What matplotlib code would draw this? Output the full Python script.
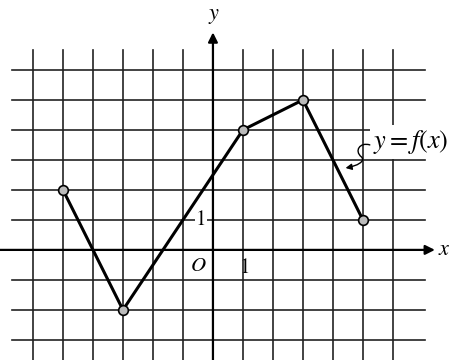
import numpy as np
import matplotlib.pyplot as plt
from matplotlib.path import Path
from matplotlib.patches import FancyArrowPatch

# vertices of the piecewise linear function y = f(x)
xs = [-5, -3, 1, 3, 5]
ys = [2, -2, 4, 5, 1]

grid_x = np.arange(-6, 7)
grid_y = np.arange(-3, 7)

plt.rcParams['mathtext.fontset'] = 'stix'
plt.rcParams['font.family'] = 'STIXGeneral'

fig = plt.figure(figsize=(4.52, 3.60), dpi=100)
ax = fig.add_axes([0, 0, 1, 1])
ax.set_xlim(-7.1, 7.97)
ax.set_ylim(-3.67, 8.33)
ax.axis('off')

# grid
for gx in grid_x:
    if gx == 0:
        continue
    ax.plot([gx, gx], [-3.8, 6.67], color='#222222', lw=1.2, zorder=1)
for gy in grid_y:
    if gy == 0:
        continue
    ax.plot([-6.7, 7.07], [gy, gy], color='#222222', lw=1.2, zorder=1)

# axes
ax.annotate('', xy=(7.4, 0), xytext=(-7.1, 0),
            arrowprops=dict(arrowstyle='-|>', color='black', lw=1.6,
                            mutation_scale=14, shrinkA=0, shrinkB=0), zorder=2)
ax.annotate('', xy=(0, 7.25), xytext=(0, -3.8),
            arrowprops=dict(arrowstyle='-|>', color='black', lw=1.6,
                            mutation_scale=14, shrinkA=0, shrinkB=0), zorder=2)
ax.text(7.72, 0, '$x$', fontsize=16, ha='center', va='center')
ax.text(0.05, 7.8, '$y$', fontsize=16, ha='center', va='center')
ax.text(-0.5, -0.55, '$O$', fontsize=15, ha='center', va='center')
ax.text(1.07, -0.6, '1', fontsize=15, ha='center', va='center')
ax.text(-0.4, 1.0, '1', fontsize=15, ha='center', va='center',
        bbox=dict(facecolor='white', edgecolor='none', pad=0.5))

# function
ax.plot(xs, ys, color='black', lw=2.2, zorder=3)
ax.plot(xs, ys, 'o', ms=7, mfc='#bbbbbb', mec='black', mew=1.2, zorder=4)

# label with squiggly pointer
ax.text(6.58, 3.6, '$y = f(x)$', fontsize=19, ha='center', va='center',
        bbox=dict(facecolor='white', edgecolor='none', pad=2), zorder=5)
squiggle = Path([(5.23, 3.5), (4.9, 3.6), (4.7, 3.3), (4.95, 3.1),
                 (5.1, 2.95), (4.8, 2.8), (4.42, 2.73)],
                [Path.MOVETO, Path.CURVE4, Path.CURVE4, Path.CURVE4,
                 Path.CURVE4, Path.CURVE4, Path.CURVE4])
ax.add_patch(FancyArrowPatch(path=squiggle, arrowstyle='-|>', color='black',
                             lw=1.0, mutation_scale=9, zorder=6))

fig.savefig('out.png', dpi=100)
